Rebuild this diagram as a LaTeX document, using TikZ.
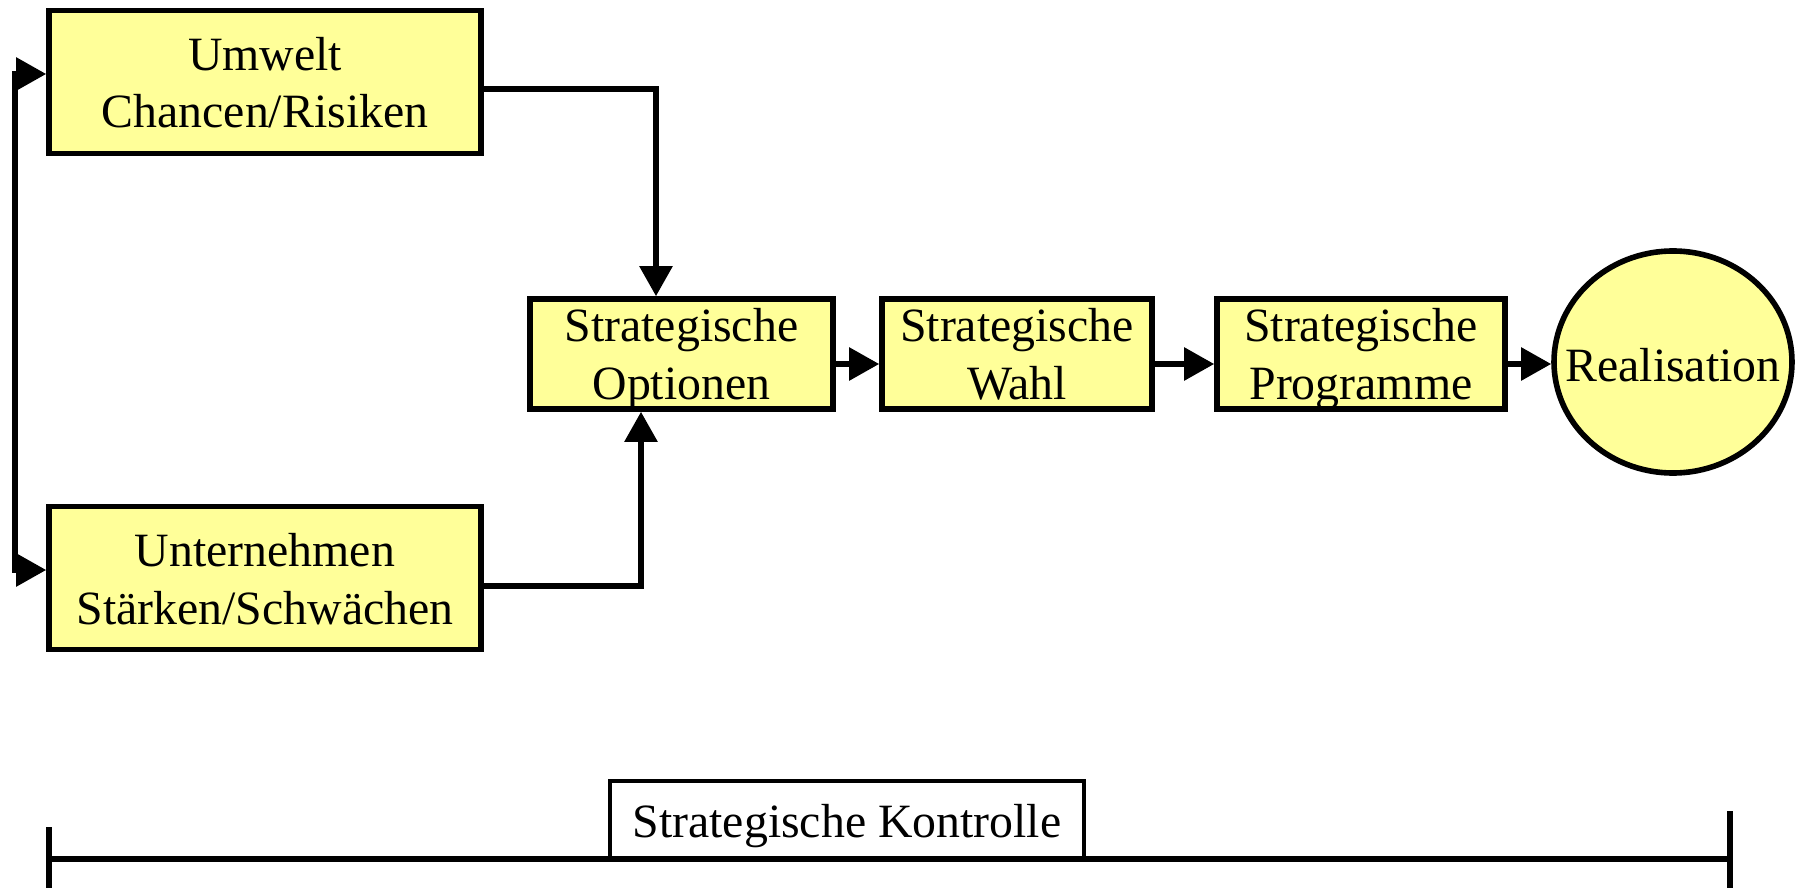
\documentclass[tikz,border=0pt]{standalone}
\usepackage{fontspec}
\setmainfont{Liberation Serif}
\usetikzlibrary{arrows.meta,shapes.geometric,calc}
\definecolor{boxyellow}{RGB}{255,255,153}
% two centred lines; the last baseline sits #1 below the node centre
\newcommand{\stacklines}[3]{\raisebox{-#1}[0pt][0pt]{%
  \begin{tabular}[b]{@{}c@{}}#2\\#3\end{tabular}}}
% a single line whose baseline sits #1 below the node centre
\newcommand{\oneline}[2]{\raisebox{-#1}[0pt][0pt]{\makebox[0pt][c]{#2}}}
\tikzset{
  stage/.style={draw=black, line width=2.8pt, fill=boxyellow, rectangle,
    inner sep=0pt, align=center,
    font=\fontsize{23.9pt}{28.6pt}\selectfont},
  goal/.style={draw=black, line width=2.8pt, fill=boxyellow, ellipse,
    inner sep=0pt, font=\fontsize{23.9pt}{28.6pt}\selectfont},
  labelbox/.style={draw=black, line width=2.4pt, fill=white, rectangle,
    inner sep=0pt, font=\fontsize{23.9pt}{28.6pt}\selectfont},
  conn/.style={line width=2.8pt, -{Triangle[length=15pt,width=16pt]}},
  biconn/.style={line width=2.8pt,
    {Triangle[length=15pt,width=16pt]}-{Triangle[length=15pt,width=16pt]}},
  bar/.style={line width=2.8pt}
}
\begin{document}
\begin{tikzpicture}[x=0.5pt,y=-0.5pt]
  \useasboundingbox (0,0) rectangle (1796,888);

  % analysis boxes
  \node[stage, minimum width=216pt, minimum height=71.5pt] (umw) at (265,82)
    {\stacklines{23pt}{Umwelt}{Chancen/Risiken}};
  \node[stage, minimum width=216pt, minimum height=71.5pt] (unt) at (265,578)
    {\stacklines{23pt}{Unternehmen}{St\"arken/Schw\"achen}};

  % process chain
  \node[stage, minimum width=151.5pt, minimum height=55pt] (opt) at (681.5,354)
    {\stacklines{22.5pt}{Strategische}{Optionen}};
  \node[stage, minimum width=135pt, minimum height=55pt] (wahl) at (1017,354)
    {\stacklines{22.5pt}{Strategische}{Wahl}};
  \node[stage, minimum width=144pt, minimum height=55pt] (prog) at (1361,354)
    {\stacklines{22.5pt}{Strategische}{Programme}};
  \node[goal, minimum width=119pt, minimum height=111pt] (real) at (1673,362)
    {\oneline{9.5pt}{Realisation}};

  % connectors
  \draw[biconn] ([yshift=4pt]umw.west) -- ++(-31,0) |- ([yshift=4pt]unt.west);
  \draw[conn] ([yshift=-3.5pt]umw.east) -| ([xshift=-12.75pt]opt.north);
  \draw[conn] ([yshift=-4pt]unt.east) -| ([xshift=-20.25pt]opt.south);
  \draw[conn] ([yshift=-5pt]opt.east) -- ([yshift=-5pt]wahl.west);
  \draw[conn] ([yshift=-5pt]wahl.east) -- ([yshift=-5pt]prog.west);
  \draw[conn] ([yshift=-5pt]prog.east) -- ([yshift=-5pt]prog.east -| real.west);

  % control bar
  \node[labelbox, minimum width=237pt, minimum height=39pt] (kon) at (847,820)
    {\oneline{8.5pt}{Strategische Kontrolle}};
  \coordinate (barL) at (49,859);
  \coordinate (barR) at (1730,859);
  \coordinate (tickLtop) at (49,827);
  \coordinate (tickLbot) at (49,888);
  \coordinate (tickRtop) at (1730,811);
  \coordinate (tickRbot) at (1730,888);
  \draw[bar] (barL) -- (barR);
  \draw[bar] (tickLtop) -- (tickLbot);
  \draw[bar] (tickRtop) -- (tickRbot);
\end{tikzpicture}
\end{document}
